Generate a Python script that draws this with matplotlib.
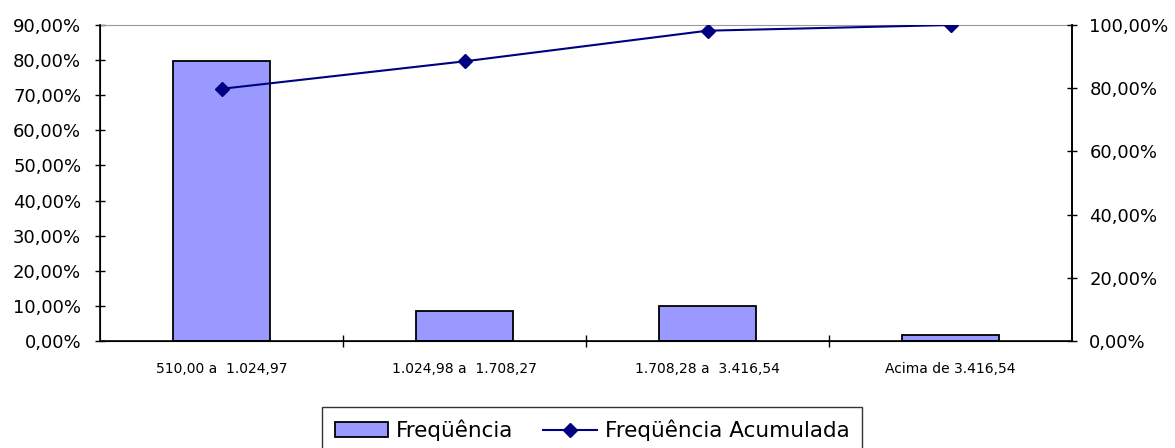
import matplotlib.pyplot as plt
from matplotlib.ticker import FuncFormatter, MultipleLocator

plt.rcParams["font.family"] = ["DejaVu Sans"]

classes = ["510,00 a  1.024,97", "1.024,98 a  1.708,27", "1.708,28 a  3.416,54", "Acima de 3.416,54"]
freq = [79.8, 8.6, 10.1, 1.6]
freq_acum = [79.8, 88.5, 98.2, 100.0]

# formato brasileiro: virgula decimal
pct = FuncFormatter(lambda v, p: ("%.2f%%" % v).replace(".", ","))

fig = plt.figure(figsize=(11.75, 4.48), dpi=100)
ax = fig.add_axes([100 / 1175, 1 - 341 / 448, 972 / 1175, 316 / 448])
x = list(range(len(classes)))
ax.bar(x, freq, width=0.4, color="#9999FF", edgecolor="black", linewidth=1.3, label="Freqüência", zorder=2)
ax.set_xlim(-0.5, len(classes) - 0.5)
ax.set_ylim(0, 90)
ax.yaxis.set_major_locator(MultipleLocator(10))
ax.yaxis.set_major_formatter(pct)
ax.set_xticks([i + 0.5 for i in x[:-1]])
ax.set_xticklabels([])
ax.set_xticks(x, minor=True)
ax.set_xticklabels(classes, minor=True, fontsize=10)
ax.tick_params(axis="x", which="major", direction="inout", length=8, width=1)
ax.tick_params(axis="x", which="minor", length=0, pad=15)
ax.tick_params(axis="y", direction="inout", length=7, width=1, labelsize=13, pad=10)
ax.spines["top"].set_color("#999999")
for s in ["left", "bottom", "right"]:
    ax.spines[s].set_linewidth(1.2)

ax2 = ax.twinx()
ax2.plot(x, freq_acum, color="#000080", marker="D", markersize=7, linewidth=1.5, label="Freqüência Acumulada", zorder=3)
ax2.set_ylim(0, 100)
ax2.yaxis.set_major_locator(MultipleLocator(20))
ax2.yaxis.set_major_formatter(pct)
ax2.tick_params(axis="y", direction="inout", length=7, width=1, labelsize=13, pad=9)
ax2.spines["top"].set_visible(False)
ax2.spines["right"].set_linewidth(1.2)

h1, l1 = ax.get_legend_handles_labels()
h2, l2 = ax2.get_legend_handles_labels()
leg = fig.legend(h1 + h2, l1 + l2, loc="upper center", bbox_to_anchor=(592 / 1175, 1 - 407 / 448),
                 ncol=2, fontsize=15.5, frameon=True, fancybox=False, edgecolor="black",
                 handlelength=2.5, handleheight=0.7, columnspacing=1.4, handletextpad=0.35,
                 borderpad=0.6, borderaxespad=0)
leg.get_frame().set_linewidth(1)

fig.savefig("out.png", dpi=100)
